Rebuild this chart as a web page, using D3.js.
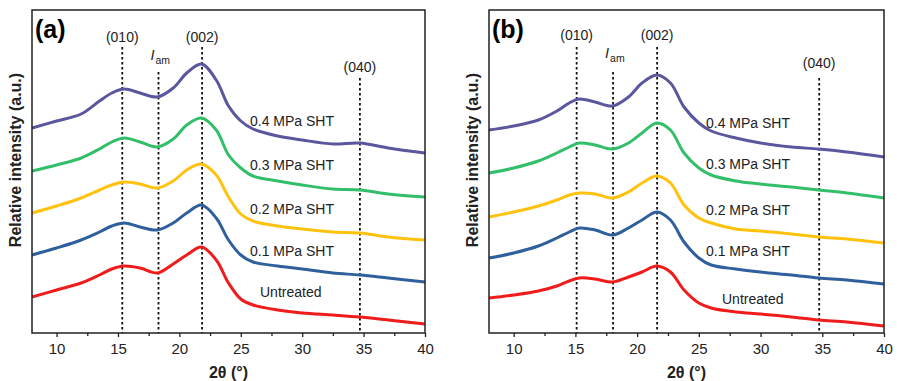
<!DOCTYPE html>
<html>
<head>
<meta charset="utf-8">
<script src="https://cdn.jsdelivr.net/npm/d3@7"></script>
<style>
  body { margin: 0; background: #fff; }
  svg { display: block; font-family: "Liberation Sans", Arial, sans-serif; }
</style>
</head>
<body>
<div id="chartdiv"></div>
<script>
// sample positions (2θ, degrees) for each panel
var twoThetaA = [8, 10, 12, 13.5, 14.5, 15.5, 16.8, 18.2, 19.5, 20.6, 21.8, 23, 24, 25, 26, 28, 30, 32.5, 34.7, 37, 40];
var twoThetaB = [8, 10, 12, 13.5, 14.5, 15.3, 16.6, 18.0, 19.3, 20.4, 21.6, 22.7, 23.8, 25, 26, 28, 30, 32.5, 34.7, 37, 40];

var seriesNames = ["0.4 MPa SHT", "0.3 MPa SHT", "0.2 MPa SHT", "0.1 MPa SHT", "Untreated"];
var seriesColors = ["#5a579e", "#33bf6a", "#ffc20e", "#2f5f9c", "#f01c1c"];

// relative intensity, stacked (a.u.)
var sht04A = [20.5, 21.2, 21.9, 23.2, 24.0, 24.4, 24.0, 23.6, 24.5, 26.0, 26.9, 25.3, 22.7, 21.2, 20.4, 19.7, 19.3, 18.9, 19.0, 18.5, 18.0];
var sht03A = [16.2, 16.8, 17.5, 18.4, 19.1, 19.5, 19.1, 18.6, 19.4, 20.8, 21.5, 20.3, 17.8, 16.5, 15.7, 15.2, 14.8, 14.4, 14.3, 13.9, 13.6];
var sht02A = [12.0, 12.7, 13.5, 14.3, 14.8, 15.1, 14.9, 14.5, 15.2, 16.3, 16.9, 15.8, 13.6, 11.9, 11.2, 10.7, 10.4, 10.1, 10.0, 9.6, 9.3];
var sht01A = [7.8, 8.5, 9.3, 10.1, 10.7, 11.0, 10.6, 10.3, 11.0, 12.0, 12.8, 11.5, 9.3, 7.8, 7.1, 6.7, 6.4, 6.0, 5.8, 5.5, 5.1];
var untreatedA = [3.6, 4.3, 5.0, 5.8, 6.4, 6.7, 6.5, 6.0, 6.9, 7.8, 8.6, 7.3, 5.0, 3.4, 2.8, 2.3, 2.0, 1.8, 1.6, 1.3, 0.9];

var sht04B = [20.3, 20.7, 21.3, 22.2, 23.0, 23.4, 23.1, 22.7, 23.6, 25.0, 25.8, 25.0, 22.6, 21.0, 20.2, 19.5, 19.0, 18.6, 18.4, 18.1, 17.6];
var sht03B = [16.0, 16.5, 17.2, 18.0, 18.6, 19.0, 18.8, 18.4, 19.0, 20.0, 21.0, 20.3, 18.0, 16.5, 15.8, 15.2, 14.9, 14.6, 14.3, 14.0, 13.5];
var sht02B = [11.6, 12.1, 12.7, 13.3, 13.8, 14.0, 13.9, 13.5, 14.1, 15.0, 15.7, 15.0, 12.8, 11.5, 11.0, 10.4, 10.2, 9.9, 9.6, 9.4, 9.0];
var sht01B = [7.5, 8.0, 8.7, 9.5, 10.1, 10.5, 10.3, 9.8, 10.5, 11.3, 12.1, 11.3, 9.1, 7.5, 6.8, 6.4, 6.1, 5.8, 5.5, 5.3, 4.9];
var untreatedB = [3.5, 3.8, 4.2, 4.7, 5.2, 5.5, 5.4, 5.1, 5.6, 6.1, 6.7, 6.1, 4.3, 3.0, 2.5, 2.1, 1.9, 1.6, 1.3, 1.1, 0.7];

// reflection markers
var peakNames = ["(010)", "Iam", "(002)", "(040)"];
var peaksA = [15.35, 18.3, 21.85, 34.7];
var peaksB = [15.1, 18.05, 21.62, 34.75];

var xTicks = [10, 15, 20, 25, 30, 35, 40];
var xMinorTicks = [12.5, 17.5, 22.5, 27.5, 32.5, 37.5];

var W = 897, H = 381;
var svg = d3.select("#chartdiv").append("svg")
  .attr("width", W)
  .attr("height", H);

function drawPanel(p) {
  var top = 10, bottom = 333;
  var x = d3.scaleLinear().domain([8, 40]).range([p.left, p.right]);
  var y = d3.scaleLinear().domain([0, 32.3]).range([bottom, top]);

  var g = svg.append("g");

  var line = d3.line()
    .x(d => x(d[0]))
    .y(d => y(d[1]))
    .curve(d3.curveCatmullRom.alpha(0.5));

  // dotted reflection lines
  p.peaks.forEach(function(v, i) {
    g.append("line")
      .attr("x1", x(v)).attr("x2", x(v))
      .attr("y1", p.lineTops[i]).attr("y2", bottom)
      .attr("stroke", "#111")
      .attr("stroke-width", 1.8)
      .attr("stroke-dasharray", "2.5,2.5");
  });

  // curves
  p.series.forEach(function(vals, i) {
    g.append("path")
      .datum(p.xs.map((t, j) => [t, vals[j]]))
      .attr("fill", "none")
      .attr("stroke", seriesColors[i])
      .attr("stroke-width", 3)
      .attr("stroke-linejoin", "round")
      .attr("d", line);
  });

  // series labels
  seriesNames.forEach(function(n, i) {
    g.append("text")
      .attr("x", p.labelX[i]).attr("y", p.labelY[i])
      .attr("dy", "0.35em")
      .attr("font-size", 14)
      .attr("fill", "#222")
      .text(n);
  });

  // peak labels
  p.peaks.forEach(function(v, i) {
    if (peakNames[i] == "Iam") {
      var t = g.append("text")
        .attr("x", x(v) - 8).attr("y", p.peakLabelY[i])
        .attr("font-size", 14.5)
        .attr("fill", "#222");
      t.append("tspan").attr("font-style", "italic").text("I");
      t.append("tspan").attr("font-size", 10.5).attr("dy", 4).attr("dx", 1).text("am");
    } else {
      g.append("text")
        .attr("x", x(v)).attr("y", p.peakLabelY[i])
        .attr("text-anchor", "middle")
        .attr("font-size", 14)
        .attr("fill", "#222")
        .text(peakNames[i]);
    }
  });

  // axes
  g.append("g")
    .attr("transform", "translate(0," + bottom + ")")
    .call(d3.axisBottom(x).tickValues(xTicks).tickSize(4).tickPadding(6))
    .call(a => a.select(".domain").remove())
    .selectAll("text")
      .attr("font-size", 15)
      .attr("fill", "#222");

  g.append("g")
    .attr("transform", "translate(0," + bottom + ")")
    .call(d3.axisBottom(x).tickValues(xMinorTicks).tickSize(3).tickFormat(""))
    .call(a => a.select(".domain").remove());

  g.selectAll(".tick line").attr("stroke", "#222").attr("stroke-width", 1.3);

  // frame
  g.append("rect")
    .attr("x", p.left).attr("y", top)
    .attr("width", p.right - p.left).attr("height", bottom - top)
    .attr("fill", "none")
    .attr("stroke", "#222")
    .attr("stroke-width", 1.5);

  // panel letter
  g.append("text")
    .attr("x", p.left + 3).attr("y", 38)
    .attr("font-size", 25).attr("font-weight", "bold")
    .text(p.tag);

  // axis titles
  g.append("text")
    .attr("x", (p.left + p.right) / 2).attr("y", 378)
    .attr("text-anchor", "middle")
    .attr("font-size", 16).attr("font-weight", "bold")
    .attr("fill", "#222")
    .text("2θ (°)");

  g.append("text")
    .attr("transform", "translate(" + (p.left - 11) + "," + 160 + ") rotate(-90)")
    .attr("text-anchor", "middle")
    .attr("font-size", 16).attr("font-weight", "bold")
    .attr("fill", "#222")
    .text("Relative intensity (a.u.)");
}

drawPanel({
  tag: "(a)", left: 32, right: 425,
  xs: twoThetaA,
  series: [sht04A, sht03A, sht02A, sht01A, untreatedA],
  peaks: peaksA,
  lineTops: [47, 72, 47, 78],
  peakLabelY: [42, 60, 42, 72],
  labelX: [250, 250, 250, 250, 260],
  labelY: [121, 165, 209, 251, 292]
});

drawPanel({
  tag: "(b)", left: 489, right: 884,
  xs: twoThetaB,
  series: [sht04B, sht03B, sht02B, sht01B, untreatedB],
  peaks: peaksB,
  lineTops: [47, 72, 47, 78],
  peakLabelY: [40, 58, 40, 68],
  labelX: [706, 706, 706, 706, 722],
  labelY: [123, 164, 210, 251, 299]
});
</script>
</body>
</html>
